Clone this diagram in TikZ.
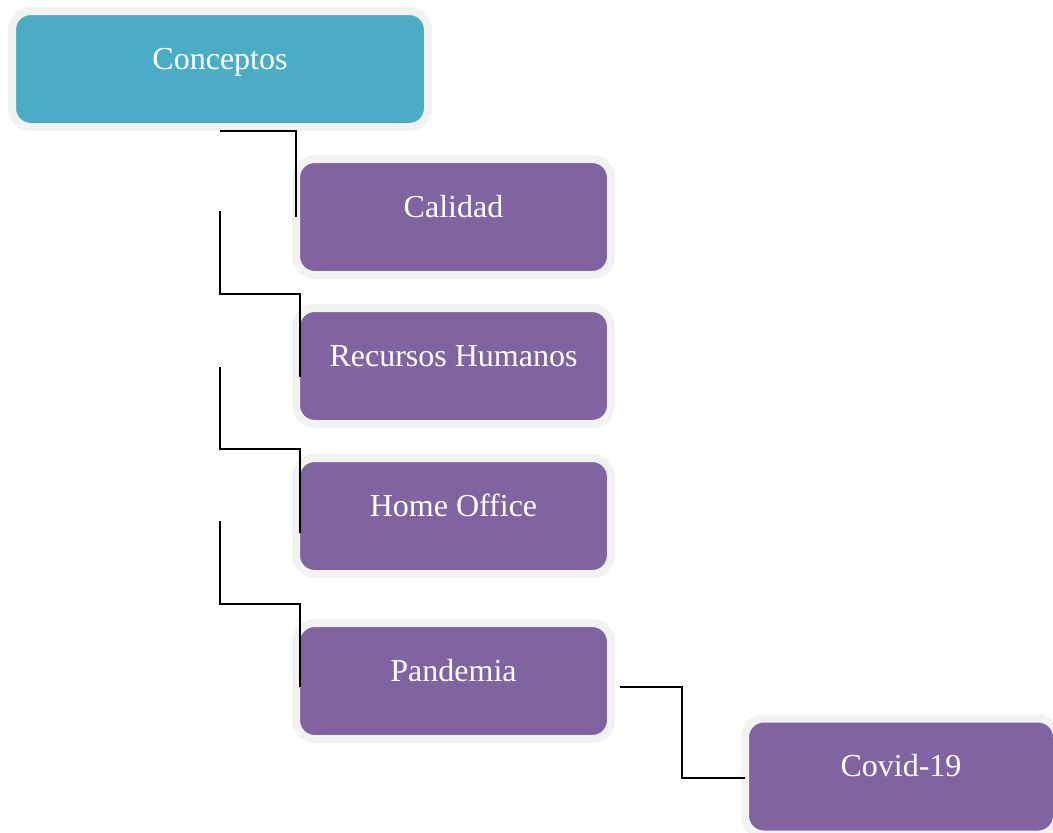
\documentclass[tikz,border=0pt]{standalone}
\usepackage{fontspec}
\setmainfont{Liberation Serif}
\definecolor{teal}{HTML}{4BACC6}
\definecolor{purp}{HTML}{8064A2}
\definecolor{bordergray}{HTML}{F2F2F2}
\tikzset{
  box/.style={rectangle, rounded corners=14pt, draw=bordergray, line width=6pt,
    text height=43.5pt, text depth=43.5pt, inner ysep=0pt, inner xsep=2pt,
    minimum width=236.25pt, text=white, align=center,
    font=\fontsize{24}{28}\selectfont},
  conn/.style={draw=black, line width=1.8pt}
}
\begin{document}
\begin{tikzpicture}[x=0.75pt, y=-0.75pt]
\useasboundingbox (0,0) rectangle (1053,832);
\clip (0,0) rectangle (1053,832);
\fill[white] (0,0) rectangle (1053,832);
\node[box, fill=teal, minimum width=312pt] (conc) at (220,69) {Conceptos};
\node[box, fill=purp] (cal) at (453.5,217) {Calidad};
\node[box, fill=purp] (rec) at (453.5,366) {Recursos Humanos};
\node[box, fill=purp] (home) at (453.5,516) {Home Office};
\node[box, fill=purp] (pand) at (453.5,681) {Pandemia};
\node[box, fill=purp, minimum width=234pt] (covid) at (901,776.5) {Covid-19};
% free ends
\coordinate (s2) at ([yshift=-60pt]conc.south);
\coordinate (s3) at ([yshift=-177pt]conc.south);
\coordinate (s4) at ([yshift=-292.5pt]conc.south);
\coordinate (e2) at ([xshift=6pt,yshift=-8.25pt]rec.west);
\coordinate (e3) at ([xshift=6pt,yshift=-12.75pt]home.west);
\coordinate (e4) at ([xshift=6pt,yshift=-4.5pt]pand.west);
\coordinate (p5) at ([xshift=3.75pt,yshift=-4.5pt]pand.east);
\coordinate (e5) at ([xshift=3pt,yshift=-1.1pt]covid.west);
% connectors
\draw[conn] (conc.south) -| ([xshift=3pt]cal.west);
\draw[conn] (s2) -- ++(0,83) -| (e2);
\draw[conn] (s3) -- ++(0,82) -| (e3);
\draw[conn] (s4) -- ++(0,83) -| (e4);
\draw[conn] (p5) -- ++(62,0) |- (e5);
\end{tikzpicture}
\end{document}
